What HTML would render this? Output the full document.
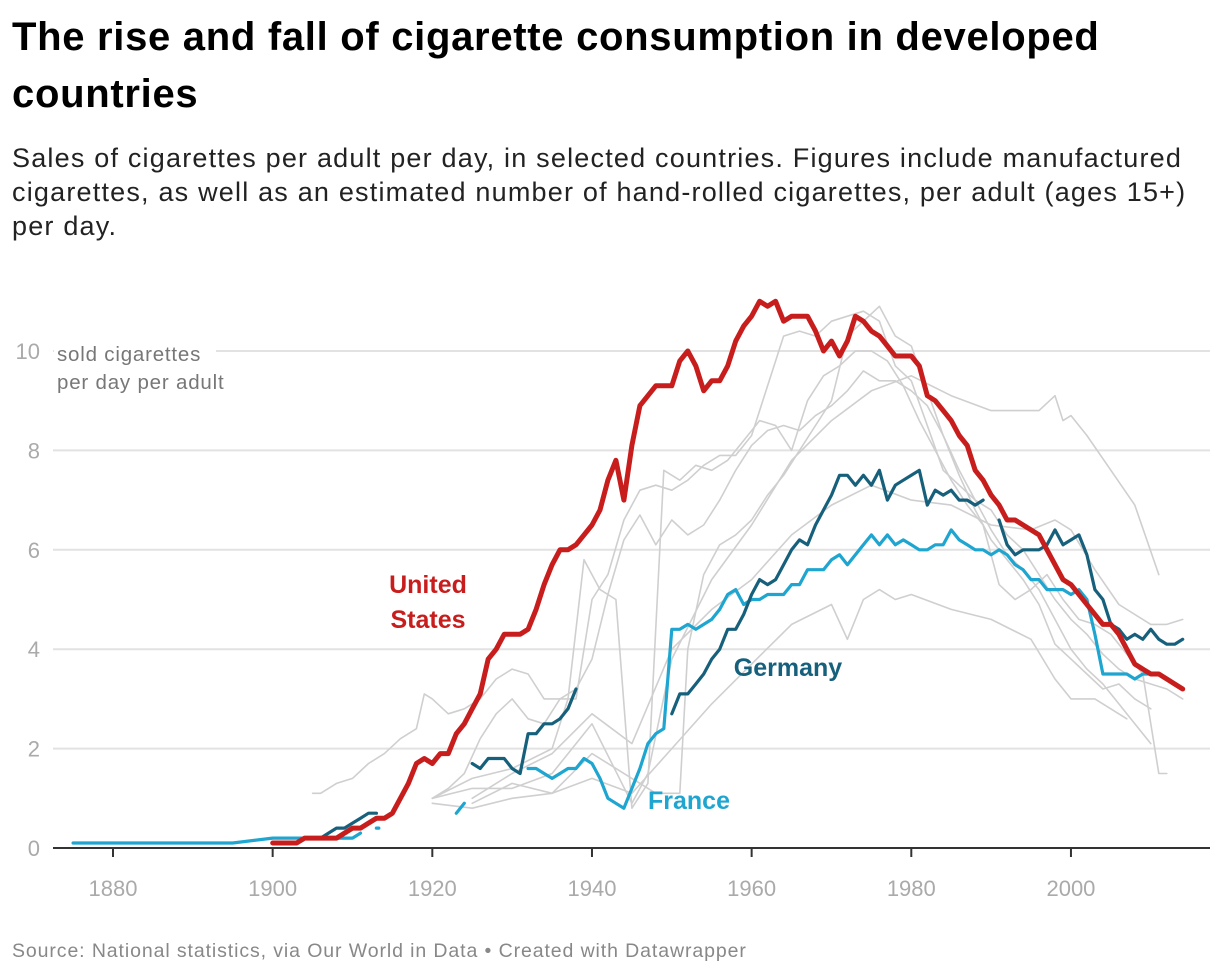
<!DOCTYPE html>
<html><head><meta charset="utf-8"><style>
body{margin:0;background:#fff;font-family:"Liberation Sans",sans-serif;}
#wrap{position:relative;width:1220px;height:976px;overflow:hidden;}
h1{position:absolute;left:12px;top:9px;margin:0;font-size:40px;line-height:57px;font-weight:bold;color:#000;width:1200px;letter-spacing:0.7px}
#sub{position:absolute;left:12px;top:141px;margin:0;font-size:27px;line-height:34px;color:#222;width:1210px;letter-spacing:1.2px;white-space:nowrap}
#foot{position:absolute;left:12px;top:940px;font-size:19.5px;color:#888;letter-spacing:0.9px}
svg{position:absolute;left:0;top:0}
</style></head><body><div id="wrap">
<h1>The rise and fall of cigarette consumption in developed<br>countries</h1>
<p id="sub">Sales of cigarettes per adult per day, in selected countries. Figures include manufactured<br>cigarettes, as well as an estimated number of hand-rolled cigarettes, per adult (ages 15+)<br>per day.</p>
<div id="foot">Source: National statistics, via Our World in Data • Created with Datawrapper</div>
<svg id="chart" width="1220" height="976"></svg>
</div>
<script>
const yTicks=[0,2,4,6,8,10];
const xTicks=[1880,1900,1920,1940,1960,1980,2000];
const usYears=[];for(let y=1900;y<=2014;y++)usYears.push(y);
const usValues=[0.1,0.1,0.1,0.1,0.2,0.2,0.2,0.2,0.2,0.3,0.4,0.4,0.5,0.6,0.6,0.7,1.0,1.3,1.7,1.8,1.7,1.9,1.9,2.3,2.5,2.8,3.1,3.8,4.0,4.3,4.3,4.3,4.4,4.8,5.3,5.7,6.0,6.0,6.1,6.3,6.5,6.8,7.4,7.8,7.0,8.1,8.9,9.1,9.3,9.3,9.3,9.8,10.0,9.7,9.2,9.4,9.4,9.7,10.2,10.5,10.7,11.0,10.9,11.0,10.6,10.7,10.7,10.7,10.4,10.0,10.2,9.9,10.2,10.7,10.6,10.4,10.3,10.1,9.9,9.9,9.9,9.7,9.1,9.0,8.8,8.6,8.3,8.1,7.6,7.4,7.1,6.9,6.6,6.6,6.5,6.4,6.3,6.0,5.7,5.4,5.3,5.1,4.9,4.7,4.5,4.5,4.3,4.0,3.7,3.6,3.5,3.5,3.4,3.3,3.2];
const franceSegYears=[[1875,1895,1900,1905,1910,1911],[1913,1913.3],[1923,1924],
[1932,1933,1934,1935,1936,1937,1938,1939,1940,1941,1942,1943,1944,1945,1946,1947,1948,1949,1950,1951,1952,1953,1954,1955,1956,1957,1958,1959,1960,1961,1962,1963,1964,1965,1966,1967,1968,1969,1970,1971,1972,1973,1974,1975,1976,1977,1978,1979,1980,1981,1982,1983,1984,1985,1986,1987,1988,1989,1990,1991,1992,1993,1994,1995,1996,1997,1998,1999,2000,2001,2002,2003,2004,2005,2006,2007,2008,2009,2010]];
const franceSegValues=[[0.1,0.1,0.2,0.2,0.2,0.3],[0.4,0.4],[0.7,0.9],
[1.6,1.6,1.5,1.4,1.5,1.6,1.6,1.8,1.7,1.4,1.0,0.9,0.8,1.2,1.6,2.1,2.3,2.4,4.4,4.4,4.5,4.4,4.5,4.6,4.8,5.1,5.2,4.9,5.0,5.0,5.1,5.1,5.1,5.3,5.3,5.6,5.6,5.6,5.8,5.9,5.7,5.9,6.1,6.3,6.1,6.3,6.1,6.2,6.1,6.0,6.0,6.1,6.1,6.4,6.2,6.1,6.0,6.0,5.9,6.0,5.9,5.7,5.6,5.4,5.4,5.2,5.2,5.2,5.1,5.2,5.0,4.3,3.5,3.5,3.5,3.5,3.4,3.5,3.5]];
const germanySegYears=[[1906,1907,1908,1909,1910,1911,1912,1913],[1925,1926,1927,1928,1929,1930,1931,1932,1933,1934,1935,1936,1937,1938],
[1950,1951,1952,1953,1954,1955,1956,1957,1958,1959,1960,1961,1962,1963,1964,1965,1966,1967,1968,1969,1970,1971,1972,1973,1974,1975,1976,1977,1978,1979,1980,1981,1982,1983,1984,1985,1986,1987,1988,1989],
[1991,1992,1993,1994,1995,1996,1997,1998,1999,2000,2001,2002,2003,2004,2005,2006,2007,2008,2009,2010,2011,2012,2013,2014]];
const germanySegValues=[[0.2,0.3,0.4,0.4,0.5,0.6,0.7,0.7],[1.7,1.6,1.8,1.8,1.8,1.6,1.5,2.3,2.3,2.5,2.5,2.6,2.8,3.2],
[2.7,3.1,3.1,3.3,3.5,3.8,4.0,4.4,4.4,4.7,5.1,5.4,5.3,5.4,5.7,6.0,6.2,6.1,6.5,6.8,7.1,7.5,7.5,7.3,7.5,7.3,7.6,7.0,7.3,7.4,7.5,7.6,6.9,7.2,7.1,7.2,7.0,7.0,6.9,7.0],
[6.6,6.1,5.9,6.0,6.0,6.0,6.1,6.4,6.1,6.2,6.3,5.9,5.2,5.0,4.5,4.4,4.2,4.3,4.2,4.4,4.2,4.1,4.1,4.2]];
const grayYears=[
[1905,1906,1908,1910,1912,1914,1916,1918,1919,1920,1922,1924,1926,1928,1930,1932,1934,1936,1938,1940,1942,1944,1946,1948,1950,1952,1954,1956,1958,1960,1962,1964,1966,1968,1970,1972,1974,1976,1978,1980,1982,1984,1986,1988,1990,1992,1994,1996,1998,2000,2002,2004,2006,2008,2010,2012,2014],
[1920,1922,1924,1926,1928,1930,1932,1934,1936,1938,1940,1942,1944,1946,1948,1950,1952,1954,1956,1958,1960,1962,1964,1966,1968,1970,1972,1974,1976,1978,1980,1982,1984,1986,1988,1990,1992,1994,1996,1998,2000,2002,2004,2006,2008,2010],
[1920,1925,1930,1935,1940,1945,1947,1950,1955,1960,1965,1970,1975,1980,1985,1990,1993,1996,1998,1999,2000,2002,2005,2008,2011],
[1920,1925,1930,1935,1937,1939,1941,1943,1945,1947,1949,1951,1953,1955,1957,1959,1961,1963,1965,1967,1969,1971,1973,1975,1977,1979,1981,1983,1985,1987,1989,1991,1993,1995,1997,1999,2001,2003,2005,2007,2009,2011,2012],
[1920,1925,1930,1935,1940,1945,1950,1955,1960,1965,1970,1972,1974,1976,1978,1980,1985,1990,1995,1998,2000,2003,2007],
[1925,1930,1935,1940,1945,1948,1951,1952,1954,1956,1958,1960,1962,1964,1966,1968,1970,1972,1974,1976,1978,1980,1982,1984,1986,1988,1990,1992,1994,1996,1998,2000,2002,2004,2006,2008,2010],
[1925,1930,1935,1940,1945,1950,1955,1960,1965,1970,1975,1980,1985,1990,1995,1998,2000,2003,2006,2010,2012,2014]];
const grayValues=[
[1.1,1.1,1.3,1.4,1.7,1.9,2.2,2.4,3.1,3.0,2.7,2.8,3.0,3.4,3.6,3.5,3.0,3.0,3.0,5.0,5.5,6.6,7.2,7.3,7.2,7.4,7.7,7.9,7.9,8.3,9.3,10.3,10.4,10.3,10.6,10.7,10.8,10.6,9.7,9.4,8.5,7.6,7.3,7.0,6.8,6.3,6.0,5.5,5.0,4.6,4.3,3.9,3.6,3.4,3.3,3.2,3.0],
[1.0,1.2,1.5,2.2,2.7,3.0,2.6,2.5,3.0,3.2,3.8,5.1,6.2,6.7,6.1,6.6,6.3,6.5,7.0,7.6,8.1,8.4,8.5,8.4,8.7,8.9,9.2,9.6,9.4,9.4,9.2,8.9,8.3,7.6,7.0,6.4,5.9,5.6,5.2,4.6,4.0,3.6,3.3,2.9,2.5,2.1],
[1.0,1.2,1.2,1.5,2.5,0.9,1.5,3.8,5.4,6.5,7.8,8.6,9.2,9.5,9.1,8.8,8.8,8.8,9.1,8.6,8.7,8.3,7.6,6.9,5.5],
[1.0,1.4,1.6,2.0,3.0,5.8,5.2,5.0,0.8,1.3,7.6,7.4,7.7,7.6,7.8,8.2,8.6,8.5,8.0,9.0,9.5,9.7,10.0,10.0,9.8,9.3,8.6,8.0,7.4,6.9,6.5,5.3,5.0,5.2,5.5,5.0,4.6,4.5,4.3,3.9,3.5,1.5,1.5],
[0.9,0.8,1.0,1.1,1.4,1.1,2.0,2.9,3.7,4.5,4.9,4.2,5.0,5.2,5.0,5.1,4.8,4.6,4.2,3.4,3.0,3.0,2.6],
[0.9,1.3,1.1,1.9,1.4,1.1,1.1,4.0,5.5,6.1,6.3,6.6,7.1,7.5,8.0,8.5,9.0,10.3,10.6,10.9,10.3,10.1,9.2,8.3,7.5,6.8,6.2,5.8,5.4,4.9,4.1,3.8,3.5,3.2,3.3,3.0,2.8],
[1.0,1.5,1.9,2.7,2.1,4.0,4.8,5.4,6.3,6.9,7.3,7.0,6.9,6.5,6.4,6.6,6.4,5.6,4.9,4.5,4.5,4.6]];

const svg=document.getElementById('chart');const NS='http://www.w3.org/2000/svg';
const X=yr=>113+(yr-1880)*7.983;
const Y=v=>848-v*49.7;
function mk(tag,attrs,parent){const e=document.createElementNS(NS,tag);for(const k in attrs)e.setAttribute(k,attrs[k]);(parent||svg).appendChild(e);return e;}
yTicks.forEach(t=>{
  if(t>0){const g=mk('line',{x1:53,x2:1210,y1:Y(t),y2:Y(t),stroke:'#e2e2e2','stroke-width':2});
  
  }
  const tx=mk('text',{x:40,y:Y(t)+8,'text-anchor':'end','font-size':22,fill:'#aaa'});tx.textContent=t;
  
  
});
const lb=mk('rect',{x:54,y:340,width:162,height:50,fill:'#fff'});


const yt=mk('text',{x:57,y:361,'font-size':20.5,fill:'#777','letter-spacing':'0.8'});


yt.innerHTML='<tspan x="57">sold cigarettes</tspan><tspan x="57" dy="28">per day per adult</tspan>';
function line(xs,vs,color,w,name){const d=xs.map((x,i)=>(i?'L':'M')+X(x).toFixed(1)+','+Y(vs[i]).toFixed(1)).join('');
  const p=mk('path',{d:d,fill:'none',stroke:color,'stroke-width':w,'stroke-linejoin':'round','stroke-linecap':'round'});
  
  }
grayYears.forEach((ys,i)=>line(ys,grayValues[i],'#cfcfcf',1.6,'other-country-line-'+(i+1)));
franceSegYears.forEach((ys,i)=>line(ys,franceSegValues[i],'#1ea5d0',3.2,'france-line'));
germanySegYears.forEach((ys,i)=>line(ys,germanySegValues[i],'#17607c',3.2,'germany-line'));
line(usYears,usValues,'#c71e1d',5,'united-states-line');
const ax=mk('line',{x1:53,x2:1210,y1:848,y2:848,stroke:'#333','stroke-width':2});


xTicks.forEach(t=>{const tk=mk('line',{x1:X(t),x2:X(t),y1:848,y2:857,stroke:'#333','stroke-width':2});
  
  
  const tx=mk('text',{x:X(t),y:896,'text-anchor':'middle','font-size':22,fill:'#aaa'});tx.textContent=t;
  
  });
function lab(txt,x,y,c,name){const t=mk('text',{x:x,y:y,'text-anchor':'middle','font-size':25,'font-weight':'bold',fill:c});t.textContent=txt;
  
  }
lab('United',428,593,'#c71e1d','label-united-states-1');
lab('States',428,628,'#c71e1d','label-united-states-2');
lab('Germany',788,676,'#17607c','label-germany');
lab('France',689,809,'#1ea5d0','label-france');
</script></body></html>
